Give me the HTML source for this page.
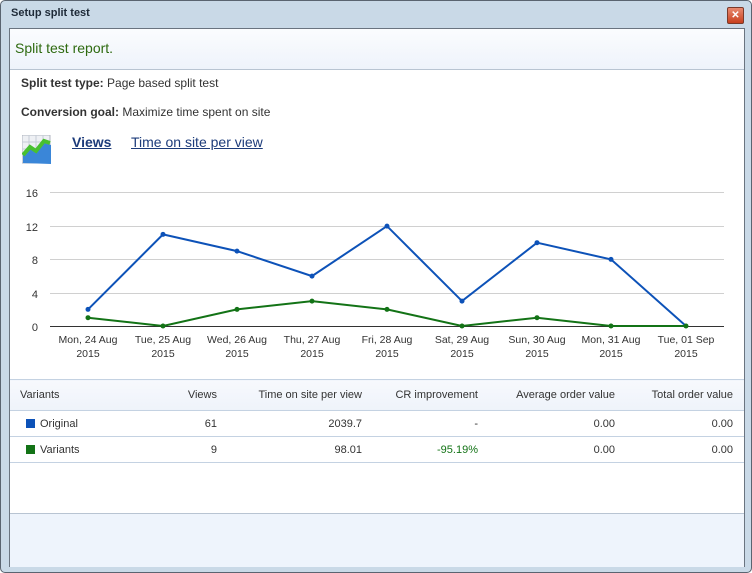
<!DOCTYPE html>
<html><head><meta charset="utf-8"><style>
body{margin:0;width:752px;height:573px;overflow:hidden;background:#fff;font-family:"Liberation Sans",Arial,sans-serif;}
.outer{position:absolute;left:0;top:0;width:750px;height:571px;border:1px solid #5a6470;border-radius:5px;background:#c9d9e7;}
.title{position:absolute;left:10px;top:6px;font-size:11px;font-weight:bold;color:#1e2a38;}
.close{position:absolute;left:726px;top:6px;width:15px;height:15px;background:linear-gradient(#e88a70,#c8401e);border:1px solid #7a3a2a;border-radius:2px;color:#fff;font-size:10px;font-weight:bold;text-align:center;line-height:15px;}
.panel{position:absolute;left:8px;top:27px;width:734px;height:537px;border:1px solid #6a7480;background:#fff;}
.head{position:absolute;left:0;top:0;width:734px;height:40px;background:linear-gradient(#fbfcfe,#eef3fb);border-bottom:1px solid #b8c4d2;}
.head span{position:absolute;left:5px;top:11px;font-size:14px;color:#2e6a10;}
.foot{position:absolute;left:0;top:484px;width:734px;height:53px;background:#eef4fc;border-top:1px solid #b8c4d2;}
.t{position:absolute;font-size:12px;color:#333;}
.lnk{position:absolute;font-size:14px;color:#1c3b7a;text-decoration:underline;}
table{position:absolute;left:0;top:350px;width:734px;border-collapse:collapse;font-size:11px;color:#333;table-layout:fixed;}
td{height:25px;border-bottom:1px solid #c4d2e2;text-align:right;padding:0;}
tr.h td{height:30px;background:linear-gradient(#f7f9fd,#eef3fa);border-top:1px solid #c4d2e2;}
.sq{display:inline-block;width:9px;height:9px;vertical-align:-1px;margin-right:5px;}
</style></head><body>
<div class="outer">
<div class="title">Setup split test</div>
<div class="close">✕</div>
<div class="panel">
<div class="head"><span>Split test report.</span></div>
<div class="t" style="left:11px;top:47px"><b>Split test type:</b> Page based split test</div>
<div class="t" style="left:11px;top:76px"><b>Conversion goal:</b> Maximize time spent on site</div>
<svg style="position:absolute;left:12px;top:106px" width="30" height="30"><rect x="0" y="0" width="28" height="28" fill="#eef0f4" stroke="#b0b6c0"/><path d="M0 7H28M0 14H28M0 21H28M7 0V28M14 0V28M21 0V28" stroke="#c6ccd6"/><path d="M1 28L1 20L8 14L14 18L22 8L29 10L29 29Z" fill="#3a86d8"/><path d="M1 20L8 12L14 16L22 6L28 8" stroke="#48c030" stroke-width="4" fill="none"/></svg>
<div class="lnk" style="left:62px;top:105px;font-weight:bold">Views</div>
<div class="lnk" style="left:121px;top:105px">Time on site per view</div>
<svg style="position:absolute;left:-10px;top:-29px" width="752" height="380" font-family="Liberation Sans,Arial,sans-serif" font-size="11" fill="#333">
<g stroke="#d0d0d0"><line x1="50" x2="724" y1="192.5" y2="192.5"/><line x1="50" x2="724" y1="226.5" y2="226.5"/><line x1="50" x2="724" y1="259.5" y2="259.5"/><line x1="50" x2="724" y1="293.5" y2="293.5"/></g>
<line x1="50" x2="724" y1="326.5" y2="326.5" stroke="#333"/>
<g text-anchor="end"><text x="38" y="197">16</text><text x="38" y="231">12</text><text x="38" y="264">8</text><text x="38" y="298">4</text><text x="38" y="331">0</text></g>
<g text-anchor="middle" font-size="10.5">
<text x="88" y="343">Mon, 24 Aug</text><text x="88" y="357">2015</text>
<text x="163" y="343">Tue, 25 Aug</text><text x="163" y="357">2015</text>
<text x="237" y="343">Wed, 26 Aug</text><text x="237" y="357">2015</text>
<text x="312" y="343">Thu, 27 Aug</text><text x="312" y="357">2015</text>
<text x="387" y="343">Fri, 28 Aug</text><text x="387" y="357">2015</text>
<text x="462" y="343">Sat, 29 Aug</text><text x="462" y="357">2015</text>
<text x="537" y="343">Sun, 30 Aug</text><text x="537" y="357">2015</text>
<text x="611" y="343">Mon, 31 Aug</text><text x="611" y="357">2015</text>
<text x="686" y="343">Tue, 01 Sep</text><text x="686" y="357">2015</text>
</g>
<polyline fill="none" stroke="#0d52b8" stroke-width="2" points="88,309.4 163,234.4 237,251.1 312,276.1 387,226.1 462,301.1 537,242.7 611,259.4 686,326"/>
<polyline fill="none" stroke="#137316" stroke-width="2" points="88,317.7 163,326 237,309.4 312,301.1 387,309.4 462,326 537,317.7 611,326 686,326"/>
<g fill="#0d52b8"><circle cx="88" cy="309.4" r="2.5"/><circle cx="163" cy="234.4" r="2.5"/><circle cx="237" cy="251.1" r="2.5"/><circle cx="312" cy="276.1" r="2.5"/><circle cx="387" cy="226.1" r="2.5"/><circle cx="462" cy="301.1" r="2.5"/><circle cx="537" cy="242.7" r="2.5"/><circle cx="611" cy="259.4" r="2.5"/></g>
<g fill="#137316"><circle cx="88" cy="317.7" r="2.5"/><circle cx="163" cy="326" r="2.5"/><circle cx="237" cy="309.4" r="2.5"/><circle cx="312" cy="301.1" r="2.5"/><circle cx="387" cy="309.4" r="2.5"/><circle cx="462" cy="326" r="2.5"/><circle cx="537" cy="317.7" r="2.5"/><circle cx="611" cy="326" r="2.5"/><circle cx="686" cy="326" r="2.5"/></g>
</svg>
<table>
<colgroup><col style="width:70px"><col style="width:137px"><col style="width:145px"><col style="width:116px"><col style="width:137px"><col style="width:129px"></colgroup>
<tr class="h"><td style="text-align:left;padding-left:10px">Variants</td><td>Views</td><td>Time on site per view</td><td>CR improvement</td><td>Average order value</td><td style="padding-right:11px">Total order value</td></tr>
<tr><td style="text-align:left;padding-left:16px;white-space:nowrap"><span class="sq" style="background:#0d52b8"></span>Original</td><td>61</td><td>2039.7</td><td>-</td><td>0.00</td><td style="padding-right:11px">0.00</td></tr>
<tr><td style="text-align:left;padding-left:16px;white-space:nowrap"><span class="sq" style="background:#137316"></span>Variants</td><td>9</td><td>98.01</td><td style="color:#137316">-95.19%</td><td>0.00</td><td style="padding-right:11px">0.00</td></tr>
</table>
<div class="foot"></div>
</div>
</div>
</body></html>
